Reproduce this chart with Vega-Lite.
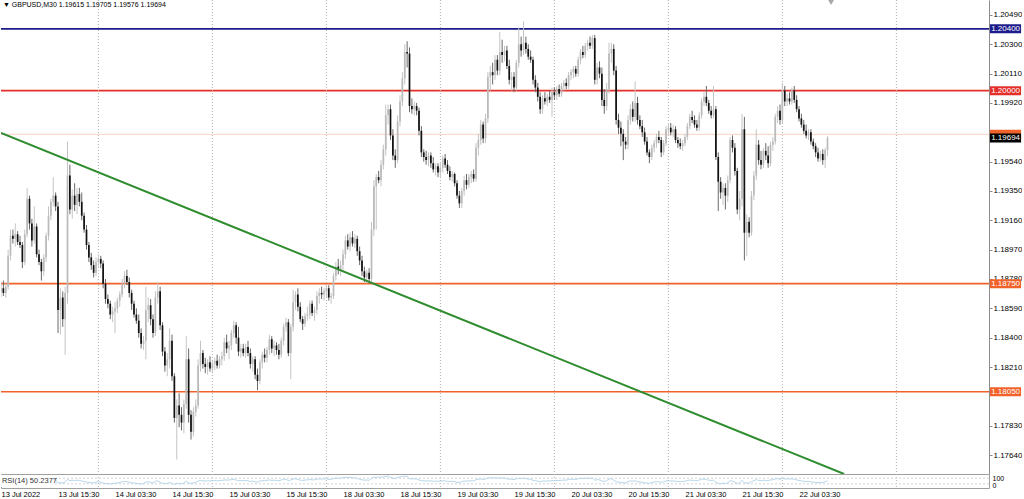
{
"$schema":"https://vega.github.io/schema/vega-lite/v6.json",
"padding":0,
"background":"white",
"config":{"view":{"stroke":null},"font":"Liberation Sans","scale":{"continuousPadding":0},"axis":{"labelFont":"Liberation Sans","labelColor":"#000000"}},
"datasets":{
"seps":[{"d":41},{"d":89},{"d":137},{"d":185},{"d":233},{"d":281},{"d":329},{"d":377}],
"trend":[{"i":0,"p":1.19726},{"i":355,"p":1.17517}],
"levels":[{"name":"Ask","p":1.19717},{"name":"Bid","p":1.19694},{"name":"R2","p":1.204},{"name":"R1","p":1.2},{"name":"S1","p":1.1875},{"name":"S2","p":1.1805}],
"bars":[
{"i":0,"o":1.1870,"h":1.1876,"l":1.1866,"c":1.1872,"r":50},
{"i":1,"o":1.1872,"h":1.1877,"l":1.1867,"c":1.1869,"r":48},
{"i":2,"o":1.1869,"h":1.1875,"l":1.1866,"c":1.1873,"r":52},
{"i":3,"o":1.1873,"h":1.1897,"l":1.1871,"c":1.1893,"r":60},
{"i":4,"o":1.1893,"h":1.1910,"l":1.1890,"c":1.1906,"r":66},
{"i":5,"o":1.1906,"h":1.1910,"l":1.1901,"c":1.1904,"r":63},
{"i":6,"o":1.1904,"h":1.1914,"l":1.1899,"c":1.1907,"r":65},
{"i":7,"o":1.1907,"h":1.1909,"l":1.1900,"c":1.1902,"r":60},
{"i":8,"o":1.1902,"h":1.1906,"l":1.1898,"c":1.1900,"r":58},
{"i":9,"o":1.1900,"h":1.1902,"l":1.1885,"c":1.1889,"r":50},
{"i":10,"o":1.1889,"h":1.1910,"l":1.1887,"c":1.1907,"r":60},
{"i":11,"o":1.1907,"h":1.1937,"l":1.1905,"c":1.1930,"r":68},
{"i":12,"o":1.1930,"h":1.1932,"l":1.1910,"c":1.1914,"r":58},
{"i":13,"o":1.1914,"h":1.1917,"l":1.1899,"c":1.1903,"r":50},
{"i":14,"o":1.1903,"h":1.1925,"l":1.1901,"c":1.1912,"r":55},
{"i":15,"o":1.1912,"h":1.1914,"l":1.1892,"c":1.1894,"r":46},
{"i":16,"o":1.1894,"h":1.1897,"l":1.1887,"c":1.1889,"r":44},
{"i":17,"o":1.1889,"h":1.1891,"l":1.1877,"c":1.1883,"r":40},
{"i":18,"o":1.1883,"h":1.1894,"l":1.1880,"c":1.1892,"r":45},
{"i":19,"o":1.1892,"h":1.1908,"l":1.1889,"c":1.1906,"r":52},
{"i":20,"o":1.1906,"h":1.1925,"l":1.1903,"c":1.1919,"r":58},
{"i":21,"o":1.1919,"h":1.1930,"l":1.1916,"c":1.1928,"r":62},
{"i":22,"o":1.1928,"h":1.1944,"l":1.1925,"c":1.1932,"r":63},
{"i":23,"o":1.1932,"h":1.1934,"l":1.1922,"c":1.1925,"r":58},
{"i":24,"o":1.1925,"h":1.1928,"l":1.1843,"c":1.1858,"r":35},
{"i":25,"o":1.1858,"h":1.1872,"l":1.1842,"c":1.1866,"r":40},
{"i":26,"o":1.1866,"h":1.1870,"l":1.1847,"c":1.1852,"r":36},
{"i":27,"o":1.1852,"h":1.1873,"l":1.1829,"c":1.1869,"r":42},
{"i":28,"o":1.1869,"h":1.1967,"l":1.1862,"c":1.1945,"r":62},
{"i":29,"o":1.1945,"h":1.1952,"l":1.1920,"c":1.1923,"r":52},
{"i":30,"o":1.1923,"h":1.1936,"l":1.1917,"c":1.1932,"r":56},
{"i":31,"o":1.1932,"h":1.1940,"l":1.1922,"c":1.1926,"r":53},
{"i":32,"o":1.1926,"h":1.1937,"l":1.1920,"c":1.1933,"r":56},
{"i":33,"o":1.1933,"h":1.1937,"l":1.1925,"c":1.1928,"r":54},
{"i":34,"o":1.1928,"h":1.1934,"l":1.1916,"c":1.1919,"r":50},
{"i":35,"o":1.1919,"h":1.1921,"l":1.1908,"c":1.1910,"r":46},
{"i":36,"o":1.1910,"h":1.1913,"l":1.1897,"c":1.1900,"r":42},
{"i":37,"o":1.1900,"h":1.1902,"l":1.1889,"c":1.1892,"r":40},
{"i":38,"o":1.1892,"h":1.1895,"l":1.1884,"c":1.1887,"r":38},
{"i":39,"o":1.1887,"h":1.1890,"l":1.1879,"c":1.1882,"r":36},
{"i":40,"o":1.1882,"h":1.1892,"l":1.1880,"c":1.1889,"r":42},
{"i":41,"o":1.1889,"h":1.1894,"l":1.1886,"c":1.1891,"r":44},
{"i":42,"o":1.1891,"h":1.1893,"l":1.1885,"c":1.1888,"r":42},
{"i":43,"o":1.1888,"h":1.1890,"l":1.1872,"c":1.1875,"r":36},
{"i":44,"o":1.1875,"h":1.1878,"l":1.1862,"c":1.1865,"r":32},
{"i":45,"o":1.1865,"h":1.1868,"l":1.1859,"c":1.1862,"r":31},
{"i":46,"o":1.1862,"h":1.1864,"l":1.1852,"c":1.1855,"r":29},
{"i":47,"o":1.1855,"h":1.1860,"l":1.1850,"c":1.1857,"r":31},
{"i":48,"o":1.1857,"h":1.1863,"l":1.1843,"c":1.1859,"r":33},
{"i":49,"o":1.1859,"h":1.1866,"l":1.1856,"c":1.1864,"r":36},
{"i":50,"o":1.1864,"h":1.1870,"l":1.1860,"c":1.1868,"r":40},
{"i":51,"o":1.1868,"h":1.1878,"l":1.1866,"c":1.1875,"r":44},
{"i":52,"o":1.1875,"h":1.1883,"l":1.1872,"c":1.1880,"r":47},
{"i":53,"o":1.1880,"h":1.1884,"l":1.1874,"c":1.1876,"r":45},
{"i":54,"o":1.1876,"h":1.1879,"l":1.1866,"c":1.1869,"r":41},
{"i":55,"o":1.1869,"h":1.1871,"l":1.1858,"c":1.1862,"r":38},
{"i":56,"o":1.1862,"h":1.1864,"l":1.1853,"c":1.1855,"r":35},
{"i":57,"o":1.1855,"h":1.1859,"l":1.1849,"c":1.1851,"r":33},
{"i":58,"o":1.1851,"h":1.1855,"l":1.1840,"c":1.1843,"r":31},
{"i":59,"o":1.1843,"h":1.1846,"l":1.1833,"c":1.1836,"r":29},
{"i":60,"o":1.1836,"h":1.1841,"l":1.1832,"c":1.1838,"r":31},
{"i":61,"o":1.1838,"h":1.1873,"l":1.1826,"c":1.1858,"r":42},
{"i":62,"o":1.1858,"h":1.1866,"l":1.1850,"c":1.1861,"r":44},
{"i":63,"o":1.1861,"h":1.1865,"l":1.1848,"c":1.1852,"r":40},
{"i":64,"o":1.1852,"h":1.1855,"l":1.1840,"c":1.1843,"r":36},
{"i":65,"o":1.1843,"h":1.1870,"l":1.1841,"c":1.1866,"r":48},
{"i":66,"o":1.1866,"h":1.1876,"l":1.1862,"c":1.1870,"r":51},
{"i":67,"o":1.1870,"h":1.1873,"l":1.1845,"c":1.1848,"r":40},
{"i":68,"o":1.1848,"h":1.1850,"l":1.1828,"c":1.1831,"r":34},
{"i":69,"o":1.1831,"h":1.1834,"l":1.1818,"c":1.1822,"r":31},
{"i":70,"o":1.1822,"h":1.1830,"l":1.1815,"c":1.1826,"r":34},
{"i":71,"o":1.1826,"h":1.1846,"l":1.1820,"c":1.1838,"r":40},
{"i":72,"o":1.1838,"h":1.1842,"l":1.1812,"c":1.1815,"r":32},
{"i":73,"o":1.1815,"h":1.1817,"l":1.1785,"c":1.1788,"r":26},
{"i":74,"o":1.1788,"h":1.1800,"l":1.1761,"c":1.1796,"r":33},
{"i":75,"o":1.1796,"h":1.1804,"l":1.1782,"c":1.1790,"r":31},
{"i":76,"o":1.1790,"h":1.1795,"l":1.1780,"c":1.1785,"r":30},
{"i":77,"o":1.1785,"h":1.1800,"l":1.1778,"c":1.1797,"r":35},
{"i":78,"o":1.1797,"h":1.1841,"l":1.1794,"c":1.1826,"r":48},
{"i":79,"o":1.1826,"h":1.1833,"l":1.1785,"c":1.1790,"r":36},
{"i":80,"o":1.1790,"h":1.1793,"l":1.1774,"c":1.1779,"r":32},
{"i":81,"o":1.1779,"h":1.1795,"l":1.1776,"c":1.1792,"r":38},
{"i":82,"o":1.1792,"h":1.1800,"l":1.1789,"c":1.1796,"r":40},
{"i":83,"o":1.1796,"h":1.1826,"l":1.1794,"c":1.1822,"r":50},
{"i":84,"o":1.1822,"h":1.1838,"l":1.1818,"c":1.1830,"r":54},
{"i":85,"o":1.1830,"h":1.1832,"l":1.1820,"c":1.1823,"r":51},
{"i":86,"o":1.1823,"h":1.1827,"l":1.1817,"c":1.1821,"r":50},
{"i":87,"o":1.1821,"h":1.1826,"l":1.1816,"c":1.1824,"r":52},
{"i":88,"o":1.1824,"h":1.1828,"l":1.1818,"c":1.1820,"r":50},
{"i":89,"o":1.1820,"h":1.1825,"l":1.1817,"c":1.1823,"r":52},
{"i":90,"o":1.1823,"h":1.1827,"l":1.1819,"c":1.1825,"r":53},
{"i":91,"o":1.1825,"h":1.1829,"l":1.1820,"c":1.1822,"r":51},
{"i":92,"o":1.1822,"h":1.1828,"l":1.1820,"c":1.1826,"r":53},
{"i":93,"o":1.1826,"h":1.1831,"l":1.1822,"c":1.1828,"r":54},
{"i":94,"o":1.1828,"h":1.1840,"l":1.1825,"c":1.1837,"r":58},
{"i":95,"o":1.1837,"h":1.1842,"l":1.1830,"c":1.1833,"r":56},
{"i":96,"o":1.1833,"h":1.1838,"l":1.1826,"c":1.1835,"r":57},
{"i":97,"o":1.1835,"h":1.1845,"l":1.1832,"c":1.1843,"r":60},
{"i":98,"o":1.1843,"h":1.1851,"l":1.1840,"c":1.1848,"r":62},
{"i":99,"o":1.1848,"h":1.1850,"l":1.1836,"c":1.1840,"r":57},
{"i":100,"o":1.1840,"h":1.1847,"l":1.1828,"c":1.1831,"r":52},
{"i":101,"o":1.1831,"h":1.1836,"l":1.1827,"c":1.1833,"r":53},
{"i":102,"o":1.1833,"h":1.1836,"l":1.1828,"c":1.1830,"r":52},
{"i":103,"o":1.1830,"h":1.1836,"l":1.1827,"c":1.1834,"r":54},
{"i":104,"o":1.1834,"h":1.1838,"l":1.1828,"c":1.1830,"r":51},
{"i":105,"o":1.1830,"h":1.1833,"l":1.1820,"c":1.1823,"r":47},
{"i":106,"o":1.1823,"h":1.1828,"l":1.1818,"c":1.1826,"r":49},
{"i":107,"o":1.1826,"h":1.1828,"l":1.1813,"c":1.1816,"r":44},
{"i":108,"o":1.1816,"h":1.1820,"l":1.1806,"c":1.1812,"r":42},
{"i":109,"o":1.1812,"h":1.1826,"l":1.1810,"c":1.1824,"r":49},
{"i":110,"o":1.1824,"h":1.1831,"l":1.1820,"c":1.1829,"r":53},
{"i":111,"o":1.1829,"h":1.1833,"l":1.1824,"c":1.1827,"r":52},
{"i":112,"o":1.1827,"h":1.1834,"l":1.1824,"c":1.1832,"r":55},
{"i":113,"o":1.1832,"h":1.1842,"l":1.1829,"c":1.1839,"r":58},
{"i":114,"o":1.1839,"h":1.1841,"l":1.1830,"c":1.1833,"r":54},
{"i":115,"o":1.1833,"h":1.1838,"l":1.1828,"c":1.1835,"r":56},
{"i":116,"o":1.1835,"h":1.1837,"l":1.1829,"c":1.1832,"r":54},
{"i":117,"o":1.1832,"h":1.1836,"l":1.1826,"c":1.1829,"r":52},
{"i":118,"o":1.1829,"h":1.1840,"l":1.1827,"c":1.1838,"r":57},
{"i":119,"o":1.1838,"h":1.1849,"l":1.1835,"c":1.1847,"r":62},
{"i":120,"o":1.1847,"h":1.1853,"l":1.1844,"c":1.1850,"r":63},
{"i":121,"o":1.1850,"h":1.1852,"l":1.1828,"c":1.1830,"r":52},
{"i":122,"o":1.1830,"h":1.1849,"l":1.1813,"c":1.1847,"r":58},
{"i":123,"o":1.1847,"h":1.1871,"l":1.1844,"c":1.1863,"r":64},
{"i":124,"o":1.1863,"h":1.1870,"l":1.1858,"c":1.1868,"r":66},
{"i":125,"o":1.1868,"h":1.1872,"l":1.1857,"c":1.1860,"r":61},
{"i":126,"o":1.1860,"h":1.1863,"l":1.1850,"c":1.1852,"r":56},
{"i":127,"o":1.1852,"h":1.1854,"l":1.1845,"c":1.1849,"r":54},
{"i":128,"o":1.1849,"h":1.1856,"l":1.1847,"c":1.1854,"r":57},
{"i":129,"o":1.1854,"h":1.1860,"l":1.1851,"c":1.1855,"r":58},
{"i":130,"o":1.1855,"h":1.1864,"l":1.1852,"c":1.1862,"r":62},
{"i":131,"o":1.1862,"h":1.1864,"l":1.1854,"c":1.1856,"r":58},
{"i":132,"o":1.1856,"h":1.1860,"l":1.1851,"c":1.1858,"r":59},
{"i":133,"o":1.1858,"h":1.1870,"l":1.1855,"c":1.1867,"r":64},
{"i":134,"o":1.1867,"h":1.1872,"l":1.1862,"c":1.1869,"r":65},
{"i":135,"o":1.1869,"h":1.1873,"l":1.1865,"c":1.1868,"r":64},
{"i":136,"o":1.1868,"h":1.1872,"l":1.1864,"c":1.1870,"r":65},
{"i":137,"o":1.1870,"h":1.1874,"l":1.1866,"c":1.1872,"r":66},
{"i":138,"o":1.1872,"h":1.1874,"l":1.1864,"c":1.1866,"r":61},
{"i":139,"o":1.1866,"h":1.1869,"l":1.1862,"c":1.1867,"r":62},
{"i":140,"o":1.1867,"h":1.1882,"l":1.1865,"c":1.1880,"r":68},
{"i":141,"o":1.1880,"h":1.1889,"l":1.1877,"c":1.1886,"r":71},
{"i":142,"o":1.1886,"h":1.1891,"l":1.1881,"c":1.1884,"r":69},
{"i":143,"o":1.1884,"h":1.1890,"l":1.1880,"c":1.1887,"r":70},
{"i":144,"o":1.1887,"h":1.1897,"l":1.1883,"c":1.1894,"r":73},
{"i":145,"o":1.1894,"h":1.1906,"l":1.1891,"c":1.1903,"r":76},
{"i":146,"o":1.1903,"h":1.1907,"l":1.1897,"c":1.1899,"r":73},
{"i":147,"o":1.1899,"h":1.1908,"l":1.1896,"c":1.1905,"r":75},
{"i":148,"o":1.1905,"h":1.1909,"l":1.1899,"c":1.1901,"r":72},
{"i":149,"o":1.1901,"h":1.1907,"l":1.1898,"c":1.1904,"r":73},
{"i":150,"o":1.1904,"h":1.1906,"l":1.1893,"c":1.1896,"r":67},
{"i":151,"o":1.1896,"h":1.1899,"l":1.1887,"c":1.1890,"r":63},
{"i":152,"o":1.1890,"h":1.1893,"l":1.1880,"c":1.1883,"r":58},
{"i":153,"o":1.1883,"h":1.1886,"l":1.1876,"c":1.1879,"r":56},
{"i":154,"o":1.1879,"h":1.1884,"l":1.1875,"c":1.1882,"r":57},
{"i":155,"o":1.1882,"h":1.1885,"l":1.1875,"c":1.1878,"r":55},
{"i":156,"o":1.1878,"h":1.1915,"l":1.1876,"c":1.1910,"r":68},
{"i":157,"o":1.1910,"h":1.1942,"l":1.1906,"c":1.1938,"r":76},
{"i":158,"o":1.1938,"h":1.1946,"l":1.1910,"c":1.1944,"r":77},
{"i":159,"o":1.1944,"h":1.1948,"l":1.1940,"c":1.1942,"r":76},
{"i":160,"o":1.1942,"h":1.1955,"l":1.1938,"c":1.1952,"r":78},
{"i":161,"o":1.1952,"h":1.1965,"l":1.1949,"c":1.1962,"r":80},
{"i":162,"o":1.1962,"h":1.1991,"l":1.1958,"c":1.1984,"r":84},
{"i":163,"o":1.1984,"h":1.1991,"l":1.1978,"c":1.1988,"r":85},
{"i":164,"o":1.1988,"h":1.1991,"l":1.1968,"c":1.1971,"r":77},
{"i":165,"o":1.1971,"h":1.1975,"l":1.1955,"c":1.1958,"r":70},
{"i":166,"o":1.1958,"h":1.1962,"l":1.1950,"c":1.1955,"r":68},
{"i":167,"o":1.1955,"h":1.1984,"l":1.1953,"c":1.1980,"r":76},
{"i":168,"o":1.1980,"h":1.1997,"l":1.1977,"c":1.1993,"r":79},
{"i":169,"o":1.1993,"h":1.2012,"l":1.1990,"c":1.2008,"r":82},
{"i":170,"o":1.2008,"h":1.2030,"l":1.2004,"c":1.2025,"r":85},
{"i":171,"o":1.2025,"h":1.2032,"l":1.2015,"c":1.2024,"r":84},
{"i":172,"o":1.2024,"h":1.2028,"l":1.1986,"c":1.1990,"r":66},
{"i":173,"o":1.1990,"h":1.1995,"l":1.1985,"c":1.1988,"r":65},
{"i":174,"o":1.1988,"h":1.1993,"l":1.1984,"c":1.1990,"r":66},
{"i":175,"o":1.1990,"h":1.1992,"l":1.1984,"c":1.1987,"r":64},
{"i":176,"o":1.1987,"h":1.1989,"l":1.1971,"c":1.1974,"r":58},
{"i":177,"o":1.1974,"h":1.1977,"l":1.1957,"c":1.1960,"r":52},
{"i":178,"o":1.1960,"h":1.1962,"l":1.1954,"c":1.1957,"r":51},
{"i":179,"o":1.1957,"h":1.1961,"l":1.1952,"c":1.1955,"r":50},
{"i":180,"o":1.1955,"h":1.1960,"l":1.1951,"c":1.1958,"r":52},
{"i":181,"o":1.1958,"h":1.1960,"l":1.1950,"c":1.1953,"r":50},
{"i":182,"o":1.1953,"h":1.1957,"l":1.1947,"c":1.1949,"r":48},
{"i":183,"o":1.1949,"h":1.1953,"l":1.1945,"c":1.1951,"r":49},
{"i":184,"o":1.1951,"h":1.1953,"l":1.1944,"c":1.1947,"r":47},
{"i":185,"o":1.1947,"h":1.1953,"l":1.1944,"c":1.1950,"r":49},
{"i":186,"o":1.1950,"h":1.1958,"l":1.1947,"c":1.1956,"r":52},
{"i":187,"o":1.1956,"h":1.1959,"l":1.1950,"c":1.1952,"r":50},
{"i":188,"o":1.1952,"h":1.1955,"l":1.1946,"c":1.1948,"r":48},
{"i":189,"o":1.1948,"h":1.1951,"l":1.1942,"c":1.1944,"r":46},
{"i":190,"o":1.1944,"h":1.1948,"l":1.1941,"c":1.1946,"r":48},
{"i":191,"o":1.1946,"h":1.1947,"l":1.1938,"c":1.1940,"r":45},
{"i":192,"o":1.1940,"h":1.1942,"l":1.1930,"c":1.1932,"r":41},
{"i":193,"o":1.1932,"h":1.1935,"l":1.1924,"c":1.1927,"r":39},
{"i":194,"o":1.1927,"h":1.1937,"l":1.1924,"c":1.1935,"r":45},
{"i":195,"o":1.1935,"h":1.1945,"l":1.1932,"c":1.1942,"r":50},
{"i":196,"o":1.1942,"h":1.1946,"l":1.1936,"c":1.1939,"r":48},
{"i":197,"o":1.1939,"h":1.1946,"l":1.1937,"c":1.1944,"r":51},
{"i":198,"o":1.1944,"h":1.1948,"l":1.1940,"c":1.1946,"r":52},
{"i":199,"o":1.1946,"h":1.1949,"l":1.1941,"c":1.1943,"r":50},
{"i":200,"o":1.1943,"h":1.1966,"l":1.1941,"c":1.1963,"r":60},
{"i":201,"o":1.1963,"h":1.1972,"l":1.1958,"c":1.1968,"r":62},
{"i":202,"o":1.1968,"h":1.1981,"l":1.1965,"c":1.1978,"r":65},
{"i":203,"o":1.1978,"h":1.1980,"l":1.1966,"c":1.1969,"r":60},
{"i":204,"o":1.1969,"h":1.1985,"l":1.1966,"c":1.1982,"r":65},
{"i":205,"o":1.1982,"h":1.2012,"l":1.1979,"c":1.2009,"r":72},
{"i":206,"o":1.2009,"h":1.2016,"l":1.2000,"c":1.2012,"r":73},
{"i":207,"o":1.2012,"h":1.2018,"l":1.2004,"c":1.2010,"r":71},
{"i":208,"o":1.2010,"h":1.2023,"l":1.2007,"c":1.2020,"r":74},
{"i":209,"o":1.2020,"h":1.2023,"l":1.2010,"c":1.2013,"r":70},
{"i":210,"o":1.2013,"h":1.2038,"l":1.2010,"c":1.2025,"r":73},
{"i":211,"o":1.2025,"h":1.2033,"l":1.2018,"c":1.2023,"r":71},
{"i":212,"o":1.2023,"h":1.2029,"l":1.2019,"c":1.2026,"r":72},
{"i":213,"o":1.2026,"h":1.2029,"l":1.2014,"c":1.2016,"r":66},
{"i":214,"o":1.2016,"h":1.2020,"l":1.2004,"c":1.2007,"r":62},
{"i":215,"o":1.2007,"h":1.2012,"l":1.2000,"c":1.2009,"r":63},
{"i":216,"o":1.2009,"h":1.2012,"l":1.1999,"c":1.2002,"r":60},
{"i":217,"o":1.2002,"h":1.2020,"l":1.2000,"c":1.2018,"r":66},
{"i":218,"o":1.2018,"h":1.2041,"l":1.2015,"c":1.2030,"r":70},
{"i":219,"o":1.2030,"h":1.2035,"l":1.2022,"c":1.2026,"r":67},
{"i":220,"o":1.2026,"h":1.2045,"l":1.2023,"c":1.2031,"r":70},
{"i":221,"o":1.2031,"h":1.2035,"l":1.2024,"c":1.2027,"r":67},
{"i":222,"o":1.2027,"h":1.2030,"l":1.2020,"c":1.2022,"r":64},
{"i":223,"o":1.2022,"h":1.2026,"l":1.2018,"c":1.2020,"r":62},
{"i":224,"o":1.2020,"h":1.2022,"l":1.2004,"c":1.2007,"r":55},
{"i":225,"o":1.2007,"h":1.2010,"l":1.1999,"c":1.2002,"r":52},
{"i":226,"o":1.2002,"h":1.2005,"l":1.1993,"c":1.1996,"r":49},
{"i":227,"o":1.1996,"h":1.1999,"l":1.1985,"c":1.1988,"r":45},
{"i":228,"o":1.1988,"h":1.1997,"l":1.1985,"c":1.1995,"r":50},
{"i":229,"o":1.1995,"h":1.1999,"l":1.1991,"c":1.1993,"r":49},
{"i":230,"o":1.1993,"h":1.1998,"l":1.1990,"c":1.1996,"r":51},
{"i":231,"o":1.1996,"h":1.2000,"l":1.1992,"c":1.1994,"r":50},
{"i":232,"o":1.1994,"h":1.2002,"l":1.1983,"c":1.1999,"r":53},
{"i":233,"o":1.1999,"h":1.2002,"l":1.1994,"c":1.1997,"r":52},
{"i":234,"o":1.1997,"h":1.2003,"l":1.1994,"c":1.2001,"r":54},
{"i":235,"o":1.2001,"h":1.2004,"l":1.1996,"c":1.1998,"r":53},
{"i":236,"o":1.1998,"h":1.2005,"l":1.1996,"c":1.2003,"r":55},
{"i":237,"o":1.2003,"h":1.2007,"l":1.2000,"c":1.2005,"r":57},
{"i":238,"o":1.2005,"h":1.2008,"l":1.2001,"c":1.2003,"r":56},
{"i":239,"o":1.2003,"h":1.2012,"l":1.2001,"c":1.2010,"r":61},
{"i":240,"o":1.2010,"h":1.2014,"l":1.2007,"c":1.2012,"r":62},
{"i":241,"o":1.2012,"h":1.2016,"l":1.2008,"c":1.2014,"r":63},
{"i":242,"o":1.2014,"h":1.2016,"l":1.2009,"c":1.2011,"r":61},
{"i":243,"o":1.2011,"h":1.2022,"l":1.2009,"c":1.2020,"r":66},
{"i":244,"o":1.2020,"h":1.2027,"l":1.2017,"c":1.2025,"r":69},
{"i":245,"o":1.2025,"h":1.2029,"l":1.2021,"c":1.2023,"r":67},
{"i":246,"o":1.2023,"h":1.2031,"l":1.2021,"c":1.2029,"r":70},
{"i":247,"o":1.2029,"h":1.2033,"l":1.2026,"c":1.2031,"r":71},
{"i":248,"o":1.2031,"h":1.2035,"l":1.2027,"c":1.2029,"r":69},
{"i":249,"o":1.2029,"h":1.2036,"l":1.2027,"c":1.2034,"r":72},
{"i":250,"o":1.2034,"h":1.2036,"l":1.2004,"c":1.2007,"r":55},
{"i":251,"o":1.2007,"h":1.2018,"l":1.2004,"c":1.2015,"r":60},
{"i":252,"o":1.2015,"h":1.2019,"l":1.2008,"c":1.2011,"r":58},
{"i":253,"o":1.2011,"h":1.2015,"l":1.1990,"c":1.1994,"r":49},
{"i":254,"o":1.1994,"h":1.2001,"l":1.1985,"c":1.1990,"r":47},
{"i":255,"o":1.1990,"h":1.2005,"l":1.1987,"c":1.2001,"r":53},
{"i":256,"o":1.2001,"h":1.2031,"l":1.1998,"c":1.2024,"r":64},
{"i":257,"o":1.2024,"h":1.2031,"l":1.2018,"c":1.2027,"r":66},
{"i":258,"o":1.2027,"h":1.2030,"l":1.2010,"c":1.2013,"r":57},
{"i":259,"o":1.2013,"h":1.2016,"l":1.1978,"c":1.1981,"r":45},
{"i":260,"o":1.1981,"h":1.1985,"l":1.1972,"c":1.1976,"r":42},
{"i":261,"o":1.1976,"h":1.1980,"l":1.1964,"c":1.1972,"r":40},
{"i":262,"o":1.1972,"h":1.1975,"l":1.1955,"c":1.1967,"r":38},
{"i":263,"o":1.1967,"h":1.1970,"l":1.1962,"c":1.1965,"r":37},
{"i":264,"o":1.1965,"h":1.1984,"l":1.1962,"c":1.1981,"r":47},
{"i":265,"o":1.1981,"h":1.1991,"l":1.1978,"c":1.1988,"r":51},
{"i":266,"o":1.1988,"h":1.1993,"l":1.1980,"c":1.1983,"r":48},
{"i":267,"o":1.1983,"h":1.2006,"l":1.1980,"c":1.1992,"r":52},
{"i":268,"o":1.1992,"h":1.1996,"l":1.1978,"c":1.1981,"r":45},
{"i":269,"o":1.1981,"h":1.1984,"l":1.1975,"c":1.1977,"r":43},
{"i":270,"o":1.1977,"h":1.1981,"l":1.1970,"c":1.1973,"r":41},
{"i":271,"o":1.1973,"h":1.1976,"l":1.1965,"c":1.1967,"r":38},
{"i":272,"o":1.1967,"h":1.1970,"l":1.1958,"c":1.1960,"r":35},
{"i":273,"o":1.1960,"h":1.1962,"l":1.1953,"c":1.1957,"r":34},
{"i":274,"o":1.1957,"h":1.1965,"l":1.1955,"c":1.1963,"r":40},
{"i":275,"o":1.1963,"h":1.1968,"l":1.1960,"c":1.1966,"r":43},
{"i":276,"o":1.1966,"h":1.1972,"l":1.1963,"c":1.1970,"r":46},
{"i":277,"o":1.1970,"h":1.1974,"l":1.1966,"c":1.1968,"r":45},
{"i":278,"o":1.1968,"h":1.1970,"l":1.1957,"c":1.1960,"r":40},
{"i":279,"o":1.1960,"h":1.1968,"l":1.1958,"c":1.1966,"r":45},
{"i":280,"o":1.1966,"h":1.1977,"l":1.1964,"c":1.1975,"r":51},
{"i":281,"o":1.1975,"h":1.1979,"l":1.1972,"c":1.1976,"r":52},
{"i":282,"o":1.1976,"h":1.1979,"l":1.1971,"c":1.1973,"r":50},
{"i":283,"o":1.1973,"h":1.1978,"l":1.1970,"c":1.1975,"r":51},
{"i":284,"o":1.1975,"h":1.1977,"l":1.1966,"c":1.1968,"r":47},
{"i":285,"o":1.1968,"h":1.1970,"l":1.1963,"c":1.1966,"r":46},
{"i":286,"o":1.1966,"h":1.1969,"l":1.1962,"c":1.1964,"r":45},
{"i":287,"o":1.1964,"h":1.1968,"l":1.1961,"c":1.1966,"r":46},
{"i":288,"o":1.1966,"h":1.1972,"l":1.1964,"c":1.1970,"r":49},
{"i":289,"o":1.1970,"h":1.1979,"l":1.1968,"c":1.1977,"r":53},
{"i":290,"o":1.1977,"h":1.1985,"l":1.1975,"c":1.1983,"r":57},
{"i":291,"o":1.1983,"h":1.1987,"l":1.1979,"c":1.1981,"r":55},
{"i":292,"o":1.1981,"h":1.1984,"l":1.1976,"c":1.1978,"r":53},
{"i":293,"o":1.1978,"h":1.1981,"l":1.1974,"c":1.1976,"r":52},
{"i":294,"o":1.1976,"h":1.1986,"l":1.1974,"c":1.1984,"r":57},
{"i":295,"o":1.1984,"h":1.1995,"l":1.1982,"c":1.1993,"r":62},
{"i":296,"o":1.1993,"h":1.1999,"l":1.1990,"c":1.1996,"r":64},
{"i":297,"o":1.1996,"h":1.2003,"l":1.1990,"c":1.1992,"r":60},
{"i":298,"o":1.1992,"h":1.1994,"l":1.1985,"c":1.1987,"r":56},
{"i":299,"o":1.1987,"h":1.1990,"l":1.1982,"c":1.1984,"r":54},
{"i":300,"o":1.1984,"h":1.2003,"l":1.1982,"c":1.1988,"r":56},
{"i":301,"o":1.1988,"h":1.1990,"l":1.1955,"c":1.1957,"r":40},
{"i":302,"o":1.1957,"h":1.1960,"l":1.1922,"c":1.1941,"r":33},
{"i":303,"o":1.1941,"h":1.1944,"l":1.1930,"c":1.1934,"r":31},
{"i":304,"o":1.1934,"h":1.1940,"l":1.1926,"c":1.1937,"r":34},
{"i":305,"o":1.1937,"h":1.1940,"l":1.1923,"c":1.1932,"r":32},
{"i":306,"o":1.1932,"h":1.1945,"l":1.1928,"c":1.1942,"r":38},
{"i":307,"o":1.1942,"h":1.1970,"l":1.1940,"c":1.1968,"r":52},
{"i":308,"o":1.1968,"h":1.1971,"l":1.1960,"c":1.1963,"r":49},
{"i":309,"o":1.1963,"h":1.1966,"l":1.1945,"c":1.1948,"r":42},
{"i":310,"o":1.1948,"h":1.1950,"l":1.1920,"c":1.1923,"r":32},
{"i":311,"o":1.1923,"h":1.1935,"l":1.1916,"c":1.1930,"r":37},
{"i":312,"o":1.1930,"h":1.1985,"l":1.1925,"c":1.1975,"r":55},
{"i":313,"o":1.1975,"h":1.1983,"l":1.1890,"c":1.1908,"r":35},
{"i":314,"o":1.1908,"h":1.1920,"l":1.1893,"c":1.1915,"r":38},
{"i":315,"o":1.1915,"h":1.1918,"l":1.1905,"c":1.1908,"r":34},
{"i":316,"o":1.1908,"h":1.1935,"l":1.1906,"c":1.1932,"r":46},
{"i":317,"o":1.1932,"h":1.1948,"l":1.1929,"c":1.1945,"r":52},
{"i":318,"o":1.1945,"h":1.1975,"l":1.1942,"c":1.1965,"r":60},
{"i":319,"o":1.1965,"h":1.1968,"l":1.1952,"c":1.1955,"r":54},
{"i":320,"o":1.1955,"h":1.1961,"l":1.1949,"c":1.1952,"r":52},
{"i":321,"o":1.1952,"h":1.1963,"l":1.1950,"c":1.1961,"r":56},
{"i":322,"o":1.1961,"h":1.1966,"l":1.1955,"c":1.1958,"r":54},
{"i":323,"o":1.1958,"h":1.1964,"l":1.1950,"c":1.1953,"r":52},
{"i":324,"o":1.1953,"h":1.1967,"l":1.1951,"c":1.1965,"r":58},
{"i":325,"o":1.1965,"h":1.1970,"l":1.1961,"c":1.1967,"r":59},
{"i":326,"o":1.1967,"h":1.1985,"l":1.1965,"c":1.1983,"r":65},
{"i":327,"o":1.1983,"h":1.1990,"l":1.1979,"c":1.1987,"r":67},
{"i":328,"o":1.1987,"h":1.1991,"l":1.1978,"c":1.1981,"r":62},
{"i":329,"o":1.1981,"h":1.2005,"l":1.1979,"c":1.2000,"r":70},
{"i":330,"o":1.2000,"h":1.2003,"l":1.1990,"c":1.1993,"r":64},
{"i":331,"o":1.1993,"h":1.1998,"l":1.1990,"c":1.1995,"r":65},
{"i":332,"o":1.1995,"h":1.1999,"l":1.1991,"c":1.1993,"r":63},
{"i":333,"o":1.1993,"h":1.2002,"l":1.1991,"c":1.2000,"r":67},
{"i":334,"o":1.2000,"h":1.2003,"l":1.1992,"c":1.1994,"r":62},
{"i":335,"o":1.1994,"h":1.1997,"l":1.1986,"c":1.1988,"r":58},
{"i":336,"o":1.1988,"h":1.1990,"l":1.1980,"c":1.1982,"r":54},
{"i":337,"o":1.1982,"h":1.1985,"l":1.1976,"c":1.1978,"r":51},
{"i":338,"o":1.1978,"h":1.1981,"l":1.1972,"c":1.1974,"r":48},
{"i":339,"o":1.1974,"h":1.1978,"l":1.1969,"c":1.1971,"r":46},
{"i":340,"o":1.1971,"h":1.1975,"l":1.1968,"c":1.1973,"r":48},
{"i":341,"o":1.1973,"h":1.1975,"l":1.1965,"c":1.1967,"r":44},
{"i":342,"o":1.1967,"h":1.1969,"l":1.1962,"c":1.1964,"r":42},
{"i":343,"o":1.1964,"h":1.1966,"l":1.1957,"c":1.1960,"r":40},
{"i":344,"o":1.1960,"h":1.1963,"l":1.1954,"c":1.1956,"r":38},
{"i":345,"o":1.1956,"h":1.1961,"l":1.1954,"c":1.1959,"r":41},
{"i":346,"o":1.1959,"h":1.1962,"l":1.1952,"c":1.1955,"r":39},
{"i":347,"o":1.1955,"h":1.1963,"l":1.1950,"c":1.19615,"r":45},
{"i":348,"o":1.19615,"h":1.19705,"l":1.19576,"c":1.19694,"r":50.2377}
]},
"spacing":0,
"bounds":"flush",
"vconcat":[
{"width":988,"height":474,
"resolve":{"axis":{"y":"independent","x":"independent"}},
"layer":[
{"data":{"name":"levels"},"transform":[{"filter":"datum.name != 'Bid'"}],"mark":{"type":"rule","clip":true,"strokeJoin":"round"},
 "encoding":{
  "y":{"field":"p","type":"quantitative","scale":{"domain":[1.17517,1.20587],"nice":false,"zero":false,"padding":0},
   "axis":{"orient":"right","title":null,"grid":false,"values":[1.2049,1.203,1.2011,1.1992,1.1954,1.1935,1.1916,1.1897,1.1878,1.1859,1.184,1.1821,1.1783,1.1764],"format":".5f","domainColor":"#8c8c8c","tickColor":"#8c8c8c","tickSize":3,"labelPadding":1,"labelFontSize":8,"labelBaseline":"middle","labelAlign":"left","labelOverlap":false,"labelBound":false,"labelFlush":false}},
  "color":{"field":"name","type":"nominal","scale":{"domain":["R2","R1","S1","S2","Ask","Bid"],"range":["#1c1c8a","#e3302a","#f0622a","#f0622a","#f0622a","#000000"]},"legend":null},
  "opacity":{"condition":{"test":"datum.name == 'Ask'","value":0.3},"value":1},
  "strokeWidth":{"condition":{"test":"datum.name == 'Ask'","value":1},"value":1.6}}},
{"data":{"name":"seps"},"mark":{"type":"rule","color":"#b0b0b0","strokeDash":[1,2],"strokeWidth":1,"clip":true},
 "encoding":{"x":{"field":"d","type":"quantitative","scale":{"domain":[0,416],"nice":false,"zero":false,"padding":0},"axis":null}}},
{"data":{"name":"bars"},"mark":{"type":"rule","strokeWidth":1,"clip":true},
 "encoding":{"x":{"field":"i","type":"quantitative","axis":null},"y":{"field":"l","type":"quantitative","axis":null},"y2":{"field":"h"},
  "color":{"condition":{"test":"datum.c >= datum.o","value":"#c4c4c4"},"value":"#6a6a6a"}}},
{"data":{"name":"bars"},"mark":{"type":"bar","width":1.7,"clip":true},
 "encoding":{"x":{"field":"i","type":"quantitative","axis":null},"y":{"field":"o","type":"quantitative","axis":null},"y2":{"field":"c"},
  "color":{"condition":{"test":"datum.c >= datum.o","value":"#bababa"},"value":"#111111"}}},
{"data":{"name":"trend"},"mark":{"type":"line","color":"#2f8c2f","strokeWidth":2,"clip":true,"strokeJoin":"round"},
 "encoding":{"x":{"field":"i","type":"quantitative","axis":null},"y":{"field":"p","type":"quantitative","axis":null}}},
{"data":{"name":"levels"},"mark":{"type":"bar"},
 "encoding":{"x":{"datum":416.4,"type":"quantitative","axis":null},"x2":{"datum":429.5},"y":{"field":"p","type":"quantitative","axis":null},"size":{"value":9},
  "color":{"field":"name","type":"nominal","legend":null}}},
{"data":{"name":"levels"},"transform":[{"filter":"datum.name != 'Ask'"}],"mark":{"type":"text","align":"left","baseline":"middle","fontSize":8,"color":"#ffffff"},
 "encoding":{"x":{"datum":416.9,"type":"quantitative","axis":null},"y":{"field":"p","type":"quantitative","axis":null},"text":{"field":"p","type":"quantitative","format":".5f"}}},
{"data":{"values":[{}]},"mark":{"type":"text","align":"left","baseline":"middle","fontSize":7,"color":"#000000"},
 "encoding":{"x":{"datum":0.8,"type":"quantitative","axis":null},"y":{"datum":1.20555,"type":"quantitative","axis":null},"text":{"value":"▼ GBPUSD,M30  1.19615 1.19705 1.19576 1.19694"}}},
{"data":{"values":[{}]},"mark":{"type":"point","shape":"triangle-down","filled":true,"color":"#a8a8a8","size":40,"opacity":1,"clip":true},
 "encoding":{"x":{"datum":349.5,"type":"quantitative","axis":null},"y":{"datum":1.20572,"type":"quantitative","axis":null}}}
]},
{"width":988,"height":14,"view":{"stroke":"#a0a0a0"},
"layer":[
{"data":{"name":"seps"},"mark":{"type":"rule","color":"#b0b0b0","strokeDash":[1,2],"strokeWidth":1,"clip":true},
 "encoding":{"x":{"field":"d","type":"quantitative","scale":{"domain":[0,416],"nice":false,"zero":false,"padding":0},
  "axis":{"orient":"bottom","title":null,"grid":false,"domain":false,"ticks":false,"values":[0,24,48,72,96,120,144,168,192,216,240,264,288,312,336],
   "labelExpr":"['13 Jul 2022','13 Jul 15:30','14 Jul 03:30','14 Jul 15:30','15 Jul 03:30','15 Jul 15:30','18 Jul 03:30','18 Jul 15:30','19 Jul 03:30','19 Jul 15:30','20 Jul 03:30','20 Jul 15:30','21 Jul 03:30','21 Jul 15:30','22 Jul 03:30'][round(datum.value/24)]",
   "labelAlign":"left","labelFlush":false,"labelOverlap":false,"labelBound":false,"labelPadding":2,"labelFontSize":7.5}}}},
{"data":{"values":[{"lv":70},{"lv":30}]},"mark":{"type":"rule","color":"#d4d4d4","strokeDash":[2,2],"strokeWidth":1,"clip":true},
 "encoding":{"y":{"field":"lv","type":"quantitative","scale":{"domain":[0,100],"nice":false,"zero":false,"padding":0},
  "axis":{"orient":"right","title":null,"grid":false,"domain":false,"ticks":false,"values":[100,0],"labelPadding":3,"labelFontSize":7,"labelAlign":"left","labelOverlap":false,"labelBound":false,
   "labelBaseline":{"condition":{"test":"datum.value > 50","value":"top"},"value":"bottom"}}}}},
{"data":{"name":"bars"},"mark":{"type":"line","color":"#b6d6ea","strokeWidth":1,"clip":true},
 "encoding":{"x":{"field":"i","type":"quantitative"},"y":{"field":"r","type":"quantitative"}}},
{"data":{"values":[{}]},"mark":{"type":"bar","color":"#ffffff","clip":true},
 "encoding":{"x":{"datum":0,"type":"quantitative"},"x2":{"datum":22},"y":{"datum":8,"type":"quantitative"},"y2":{"datum":92}}},
{"data":{"values":[{}]},"mark":{"type":"text","align":"left","baseline":"middle","fontSize":7.5,"color":"#333333"},
 "encoding":{"x":{"datum":0.4,"type":"quantitative"},"y":{"datum":50,"type":"quantitative"},"text":{"value":"RSI(14) 50.2377"}}}
]}
]
}
